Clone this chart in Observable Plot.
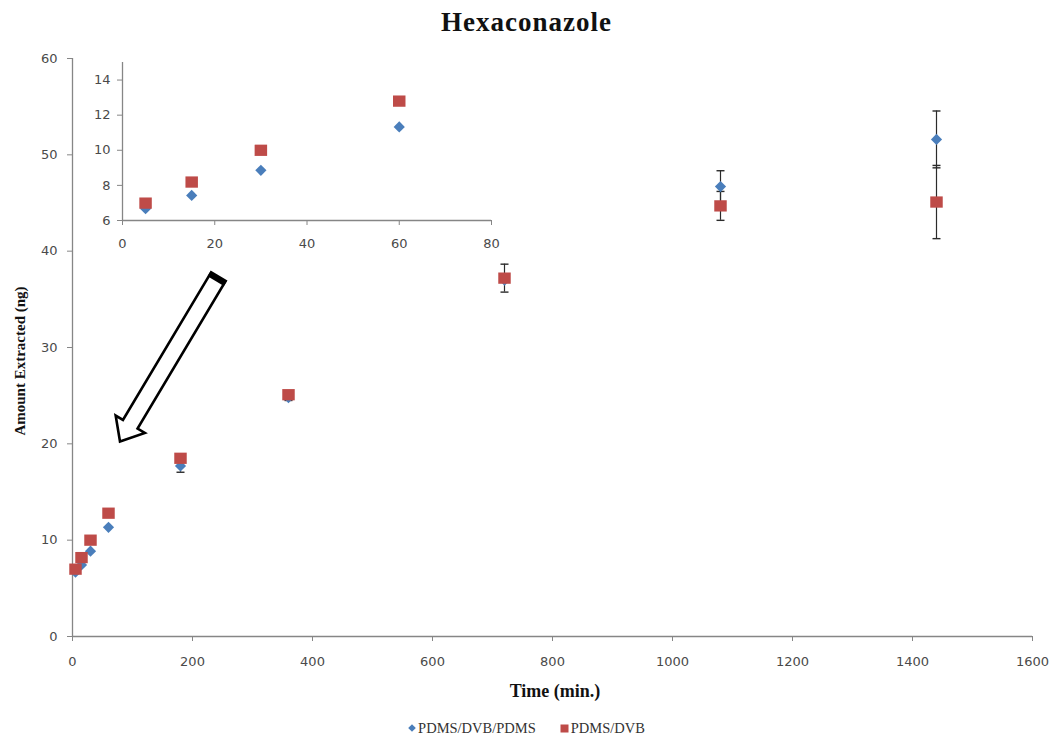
<!DOCTYPE html>
<html>
<head>
<meta charset="utf-8">
<script src="https://cdn.jsdelivr.net/npm/d3@7"></script>
<script src="https://cdn.jsdelivr.net/npm/@observablehq/plot@0.6"></script>
<style>
  html, body { margin: 0; padding: 0; background: #fff; }
  #wrap { position: relative; width: 1053px; height: 736px; overflow: hidden; background: #fff; }
  #main { position: absolute; left: 0; top: 0; }
  #inset { position: absolute; left: 84px; top: 50px; }
  #title { position: absolute; left: 0; top: 9px; width: 1053px; text-align: center;
           font: bold 27px/27px "Liberation Serif", "Times New Roman", serif; letter-spacing: 1px; color: #111; }
  #xlabel { position: absolute; left: 355px; top: 682px; width: 400px; text-align: center;
            font: bold 18px/18px "Liberation Serif", serif; color: #111; }
  #ylabel { position: absolute; left: -130px; top: 352px; width: 300px; height: 18px; text-align: center;
            font: bold 15px/18px "Liberation Serif", serif; color: #111; transform: rotate(-90deg); }
  #legend { position: absolute; left: 0; top: 720px; width: 1053px; display: flex; justify-content: center;
            gap: 24px; font: 14.5px/16px "Liberation Serif", serif; color: #333; }
  #legend span.item { display: inline-flex; align-items: center; gap: 2px; }
</style>
</head>
<body>
<div id="wrap">
  <div id="title"></div>
  <div id="ylabel"></div>
  <div id="xlabel"></div>
  <div id="legend"></div>
</div>
<script>
// ---- data ----
const chartTitle = "Hexaconazole";
const xTitle = "Time (min.)";
const yTitle = "Amount Extracted (ng)";
const seriesNames = ["PDMS/DVB/PDMS", "PDMS/DVB"];
const times = [5, 15, 30, 60, 180, 360, 720, 1080, 1440];
const pdmsDvbPdms = [6.67, 7.43, 8.86, 11.33, 17.7, 24.8, 37.0, 46.7, 51.6];
const pdmsDvbPdmsErr = [0, 0, 0, 0, 0.65, 0.3, 0, 1.65, 2.95];
const pdmsDvb = [6.99, 8.19, 10.0, 12.8, 18.5, 25.1, 37.2, 44.7, 45.1];
const pdmsDvbErr = [0, 0, 0, 0, 0.3, 0.3, 1.45, 1.5, 3.8];
const xTicks = [0, 200, 400, 600, 800, 1000, 1200, 1400, 1600];
const yTicks = [0, 10, 20, 30, 40, 50, 60];
const insetXTicks = [0, 20, 40, 60, 80];
const insetYTicks = [6, 8, 10, 12, 14];
const insetMaxTime = 80;
const arrowTail = {time: 244, amount: 37.3};
const arrowTip = {time: 80, amount: 20.2};

// ---- styles ----
const colors = {[seriesNames[0]]: "#4a7ebb", [seriesNames[1]]: "#be4b48"};
const axisGray = "#868686";
const tickText = "#4a4a4a";
const errColor = "#2b2b2b";

const diamondSymbol = {draw(ctx, size) { const r = Math.sqrt(size / Math.PI);
  ctx.moveTo(0, -r); ctx.lineTo(r, 0); ctx.lineTo(0, r); ctx.lineTo(-r, 0); ctx.closePath(); }};
const squareSymbol = {draw(ctx, size) { const r = Math.sqrt(size / Math.PI);
  const w = r * 1.04, h = r * 0.94; ctx.rect(-w, -h, 2 * w, 2 * h); }};
const capSymbol = {draw(ctx, size) { const r = Math.sqrt(size / Math.PI);
  ctx.moveTo(-r, 0); ctx.lineTo(r, 0); }};

const rows = times.flatMap((t, i) => [
  {series: seriesNames[0], time: t, amount: pdmsDvbPdms[i], err: pdmsDvbPdmsErr[i]},
  {series: seriesNames[1], time: t, amount: pdmsDvb[i], err: pdmsDvbErr[i]}
]);
const errRows = rows.filter(d => d.err > 0);
const caps = errRows.flatMap(d => [{time: d.time, amount: d.amount - d.err}, {time: d.time, amount: d.amount + d.err}]);
const blueRows = rows.filter(d => d.series === seriesNames[0]);
const redRows = rows.filter(d => d.series === seriesNames[1]);

const fontStyle = {fontFamily: "DejaVu Sans, Verdana, sans-serif", fontSize: "13px", background: "transparent", overflow: "visible"};
const plain = d => String(d);

// ---- main chart ----
const main = Plot.plot({
  width: 1053, height: 700,
  marginLeft: 72, marginRight: 21, marginTop: 58, marginBottom: 64,
  style: fontStyle,
  x: {domain: [0, 1600], label: null},
  y: {domain: [0, 60], label: null},
  marks: [
    Plot.ruleX([0], {stroke: axisGray, strokeWidth: 1.3}),
    Plot.ruleY([0], {stroke: axisGray, strokeWidth: 1.3}),
    Plot.axisY({ticks: yTicks, tickFormat: plain, tickSize: 5, tickPadding: 10, stroke: axisGray, fill: tickText, label: null, fontSize: 13}),
    Plot.axisX({ticks: xTicks, tickFormat: plain, tickSize: 5, tickPadding: 15, stroke: axisGray, fill: tickText, label: null, fontSize: 13}),
    Plot.ruleX(errRows, {x: "time", y1: d => d.amount - d.err, y2: d => d.amount + d.err, stroke: errColor, strokeWidth: 1.2}),
    Plot.dot(caps, {x: "time", y: "amount", symbol: capSymbol, r: 4, fill: "none", stroke: errColor, strokeWidth: 1.4}),
    Plot.dot(blueRows, {x: "time", y: "amount", symbol: diamondSymbol, r: 5.6, fill: colors[seriesNames[0]], stroke: "none"}),
    Plot.dot(redRows, {x: "time", y: "amount", symbol: squareSymbol, r: 6, fill: colors[seriesNames[1]], stroke: "none"})
  ]
});
main.id = "main";
document.getElementById("wrap").appendChild(main);

// block arrow annotation, positioned through the chart's scales
(function drawArrow() {
  const sx = main.scale("x"), sy = main.scale("y");
  const T = [sx.apply(arrowTail.time), sy.apply(arrowTail.amount)];
  const P = [sx.apply(arrowTip.time), sy.apply(arrowTip.amount)];
  const dx = P[0] - T[0], dy = P[1] - T[1], len = Math.hypot(dx, dy);
  const u = [dx / len, dy / len], n = [-u[1], u[0]];
  const headLen = 20, headHW = 17, shaftHW = 8.5;
  const B = [P[0] - u[0] * headLen, P[1] - u[1] * headLen];
  const pt = (o, k) => [o[0] + n[0] * k, o[1] + n[1] * k];
  const pts = [pt(T, shaftHW), pt(B, shaftHW), pt(B, headHW), P, pt(B, -headHW), pt(B, -shaftHW), pt(T, -shaftHW)];
  const svg = d3.select(main);
  svg.append("path")
    .attr("d", "M" + pts.map(p => p.join(",")).join("L") + "Z")
    .attr("fill", "#fff").attr("stroke", "#000").attr("stroke-width", 2.6).attr("stroke-linejoin", "miter");
  const Ti = [T[0] + u[0] * 2.5, T[1] + u[1] * 2.5];
  const a = pt(Ti, shaftHW + 1), b = pt(Ti, -shaftHW - 1);
  svg.append("line").attr("x1", a[0]).attr("y1", a[1]).attr("x2", b[0]).attr("y2", b[1])
    .attr("stroke", "#000").attr("stroke-width", 5.5);
})();

// ---- inset chart ----
const insetRows = rows.filter(d => d.time <= insetMaxTime);
const inset = Plot.plot({
  width: 420, height: 200,
  marginLeft: 38, marginRight: 13, marginTop: 12, marginBottom: 30,
  style: fontStyle,
  x: {domain: [0, 80], label: null},
  y: {domain: [6, 15], label: null},
  marks: [
    Plot.ruleX([0], {stroke: axisGray, strokeWidth: 1.3}),
    Plot.ruleY([6], {stroke: axisGray, strokeWidth: 1.3}),
    Plot.axisY({ticks: insetYTicks, tickFormat: plain, tickSize: 5, tickPadding: 7, stroke: axisGray, fill: tickText, label: null, fontSize: 13}),
    Plot.axisX({ticks: insetXTicks, tickFormat: plain, tickSize: 5, tickPadding: 13, stroke: axisGray, fill: tickText, label: null, fontSize: 13}),
    Plot.dot(insetRows.filter(d => d.series === seriesNames[0]), {x: "time", y: "amount", symbol: diamondSymbol, r: 5.6, fill: colors[seriesNames[0]], stroke: "none"}),
    Plot.dot(insetRows.filter(d => d.series === seriesNames[1]), {x: "time", y: "amount", symbol: squareSymbol, r: 6, fill: colors[seriesNames[1]], stroke: "none"})
  ]
});
inset.id = "inset";
document.getElementById("wrap").appendChild(inset);

// ---- texts & legend ----
document.getElementById("title").textContent = chartTitle;
document.getElementById("xlabel").textContent = xTitle;
document.getElementById("ylabel").textContent = yTitle;
const legend = document.getElementById("legend");
const legendShapes = {[seriesNames[0]]: '<svg width="8" height="8" viewBox="-4 -4 8 8"><path d="M0,-3.8L3.8,0L0,3.8L-3.8,0Z" fill="' + colors[seriesNames[0]] + '"/></svg>',
                      [seriesNames[1]]: '<svg width="9" height="9" viewBox="-4.5 -4.5 9 9"><rect x="-4" y="-4" width="8" height="8" fill="' + colors[seriesNames[1]] + '"/></svg>'};
seriesNames.forEach(name => {
  const item = document.createElement("span");
  item.className = "item";
  item.innerHTML = legendShapes[name] + "<span>" + name + "</span>";
  legend.appendChild(item);
});
</script>
</body>
</html>
